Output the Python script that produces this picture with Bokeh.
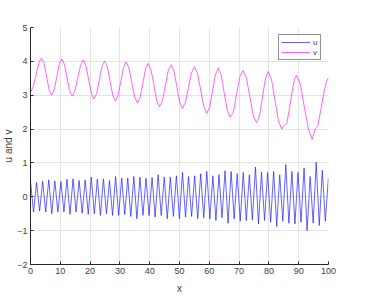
import numpy as np
from bokeh.plotting import figure
from bokeh.models import Range1d, FixedTicker, Legend, LegendItem
from bokeh.embed import file_html
from bokeh.resources import INLINE

# u: alternating peaks / troughs, sampled every half period
u_peaks = [0.45, 0.42, 0.46, 0.50, 0.47, 0.45, 0.52, 0.53, 0.48, 0.50,
           0.58, 0.52, 0.53, 0.48, 0.60, 0.55, 0.55, 0.60, 0.58, 0.55,
           0.57, 0.65, 0.58, 0.58, 0.62, 0.72, 0.60, 0.62, 0.68, 0.75,
           0.62, 0.65, 0.77, 0.75, 0.68, 0.72, 0.65, 0.88, 0.73, 0.72,
           0.75, 0.65, 0.95, 0.75, 0.72, 0.85, 0.60, 1.02, 0.78, 0.55]
u_troughs = [-0.45, -0.42, -0.45, -0.50, -0.45, -0.45, -0.52, -0.45, -0.48, -0.52,
             -0.50, -0.55, -0.50, -0.55, -0.55, -0.52, -0.58, -0.65, -0.55, -0.55,
             -0.60, -0.55, -0.65, -0.58, -0.65, -0.60, -0.58, -0.65, -0.62, -0.65,
             -0.70, -0.62, -0.78, -0.65, -0.72, -0.70, -0.68, -0.80, -0.70, -0.75,
             -0.88, -0.72, -0.78, -0.80, -0.75, -1.00, -0.78, -0.85, -0.72]
u_half_period = 1.02

v_x = [0, 0.9, 1.85, 2.8, 3.7, 4.55, 5.4, 6.25, 7.1, 7.95, 8.8, 9.65, 10.5, 11.4, 12.25,
       13.1, 14.0, 14.9, 15.85, 16.8, 17.7, 18.6, 19.5, 20.4, 21.3, 22.2, 23.1, 24.0, 24.9,
       25.8, 26.7, 27.6, 28.5, 29.4, 30.3, 31.2, 32.1, 33.05, 34.0, 34.95, 35.9, 36.8, 37.7,
       38.6, 39.5, 40.45, 41.4, 42.35, 43.3, 44.3, 45.25, 46.2, 47.2, 48.15, 49.1, 50.05,
       51.0, 52.0, 53.0, 54.0, 55.0, 56.05, 57.1, 58.15, 59.2, 60.15, 61.1, 62.05, 63.0,
       64.0, 65.0, 66.0, 67.0, 68.1, 69.15, 70.2, 71.3, 72.45, 73.6, 74.75, 75.9, 76.9,
       77.85, 78.8, 79.8, 80.9, 82.05, 83.2, 84.3, 85.0, 86.0, 86.8, 87.8, 88.6, 89.3,
       90.6, 91.9, 93.3, 94.5, 95.6, 96.4, 97.5, 98.5, 99.3, 100]
v_y = [3.08, 3.25, 3.6, 3.95, 4.10, 3.94, 3.55, 3.16, 3.00, 3.16, 3.535, 3.91, 4.07, 3.91,
       3.52, 3.13, 2.97, 3.13, 3.505, 3.88, 4.04, 3.87, 3.465, 3.06, 2.89, 3.05, 3.45, 3.85,
       4.01, 3.84, 3.42, 3.00, 2.83, 3.00, 3.405, 3.81, 3.98, 3.80, 3.375, 2.95, 2.77, 2.94,
       3.355, 3.77, 3.94, 3.75, 3.30, 2.85, 2.66, 2.84, 3.28, 3.72, 3.90, 3.71, 3.255, 2.80,
       2.61, 2.79, 3.225, 3.66, 3.84, 3.64, 3.155, 2.67, 2.47, 2.66, 3.135, 3.61, 3.80, 3.59,
       3.075, 2.56, 2.35, 2.50, 3.04, 3.53, 3.73, 3.505, 2.96, 2.38, 2.19, 2.41, 2.945, 3.48,
       3.70, 3.45, 2.85, 2.25, 2.00, 2.10, 2.16, 2.55, 3.10, 3.48, 3.59, 3.31, 2.65, 1.98,
       1.70, 2.01, 2.10, 2.60, 3.10, 3.40, 3.51]

x_ticks = [0, 10, 20, 30, 40, 50, 60, 70, 80, 90, 100]
y_ticks = [-2, -1, 0, 1, 2, 3, 4, 5]

u_y = []
for i in range(len(u_troughs)):
    u_y.append(u_peaks[i])
    u_y.append(u_troughs[i])
u_y.append(u_peaks[-1])
u_x = list(np.arange(len(u_y)) * u_half_period)

FONT = "Liberation Sans"
TXT = "#404040"

p = figure(width=362, height=298, output_backend="svg", toolbar_location=None,
           x_range=Range1d(0, 100), y_range=Range1d(-2, 5),
           min_border_left=29, min_border_right=34, min_border_top=27, min_border_bottom=34)
p.outline_line_color = None
p.background_fill_color = "white"
p.border_fill_color = "white"

ru = p.line(u_x, u_y, line_color="#2020ff", line_width=0.7)
rv = p.line(v_x, v_y, line_color="#ff20ff", line_width=0.7)

for ax in (p.xaxis[0], p.yaxis[0]):
    ax.axis_line_color = "#262626"
    ax.axis_line_width = 1
    ax.major_tick_in = 3
    ax.major_tick_out = 0
    ax.minor_tick_line_color = None
    ax.major_tick_line_color = "#262626"
    ax.major_label_text_font = FONT
    ax.major_label_text_font_size = "9px"
    ax.major_label_text_color = TXT
    ax.axis_label_text_font = FONT
    ax.axis_label_text_font_size = "10px"
    ax.axis_label_text_font_style = "normal"
    ax.axis_label_text_color = TXT

p.xaxis[0].ticker = FixedTicker(ticks=x_ticks)
p.yaxis[0].ticker = FixedTicker(ticks=y_ticks)
p.xaxis[0].axis_label = "x"
p.yaxis[0].axis_label = "u and v"
p.xaxis[0].major_label_standoff = 3
p.xaxis[0].axis_label_standoff = 6
p.yaxis[0].major_label_standoff = 3
p.yaxis[0].axis_label_standoff = 0

p.grid.grid_line_color = "#e3e3e3"
p.grid.grid_line_width = 1

legend = Legend(items=[LegendItem(label="u", renderers=[ru]),
                       LegendItem(label="v", renderers=[rv])],
                location="top_right")
legend.margin = 7
legend.padding = 2
legend.spacing = 0
legend.glyph_width = 29
legend.glyph_height = 10
legend.label_standoff = 3
legend.label_width = 5
legend.label_height = 10
legend.label_text_font = FONT
legend.label_text_font_size = "8px"
legend.label_text_color = TXT
legend.border_line_color = "#262626"
legend.border_line_width = 1
legend.background_fill_color = "white"
legend.background_fill_alpha = 1
p.add_layout(legend)

open("out.html", "w").write(file_html(p, INLINE))
